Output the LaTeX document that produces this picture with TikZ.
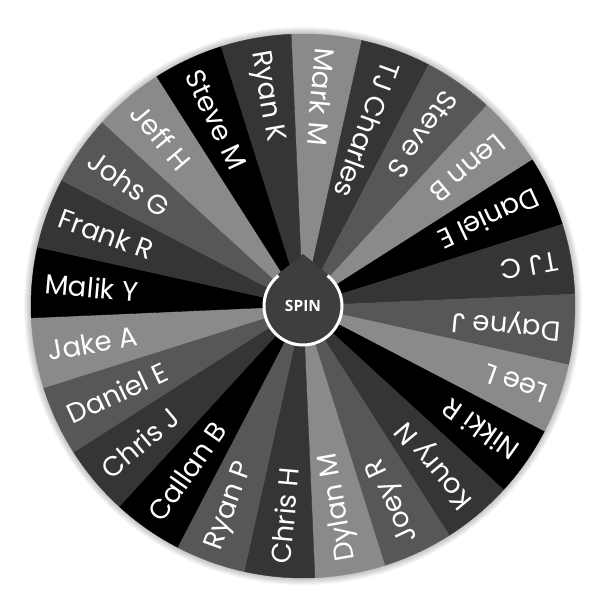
\documentclass[tikz,border=0pt]{standalone}
\usepackage{fontspec}
\setmainfont{Poppins}
\newfontfamily\hubfont{Open Sans}
\usepackage{tikz}

\definecolor{segblack}{HTML}{000000}
\definecolor{segdark}{HTML}{353535}
\definecolor{segmid}{HTML}{575757}
\definecolor{seglight}{HTML}{8A8A8A}
\definecolor{hubgray}{HTML}{3E3E3E}

\begin{document}
\begin{tikzpicture}[x=1pt, y=1pt,
  seglabel/.style={anchor=west, inner sep=0pt, text=white, font=\fontsize{27.5}{27.5}\selectfont}]
\useasboundingbox (-303,-309) rectangle (303,306);
% soft shadow round the rim
\foreach \k in {1,...,7}{
  \fill[black, opacity=0.035] (0,0) circle (272+\k);
}
% 24 slices, clockwise from the top
\foreach \who/\col [count=\i] in {Mark M/seglight, TJ Charles/segdark, Steve S/segmid, Lenn B/seglight,
    Daniel E/segblack, TJ C/segdark, Dayne J/segmid, Lee L/seglight, Nikki R/segblack, Koury N/segdark,
    Joey R/segmid, Dylan M/seglight, Chris H/segdark, Ryan P/segmid, Callan B/segblack, Chris J/segdark,
    Daniel E/segmid, Jake A/seglight, Malik Y/segblack, Frank R/segdark, Johs G/segmid, Jeff H/seglight,
    Steve M/segblack, Ryan K/segdark}{
  \pgfmathsetmacro{\ang}{100-15*\i}
  \filldraw[\col, line width=0.4pt] (0,0) -- (\ang-7.5:272) arc[start angle=\ang-7.5, end angle=\ang+7.5, radius=272] -- cycle;
  \node[seglabel, rotate=\ang+180] (who\i) at (\ang:259) {\who};
}
% hub with pointer
\node[circle, fill=hubgray, draw=white, line width=3pt, minimum size=78pt, inner sep=0pt] (hub) at (0,0) {};
\coordinate (tip) at (0,52);
\fill[hubgray] (tip) -- (51.3:40.6) -- (hub.center) -- (128.7:40.6) -- cycle;
\node[text=white, font=\hubfont\bfseries\fontsize{15.5}{15.5}\selectfont] (spin) at (hub.center) {SPIN};
\end{tikzpicture}
\end{document}
